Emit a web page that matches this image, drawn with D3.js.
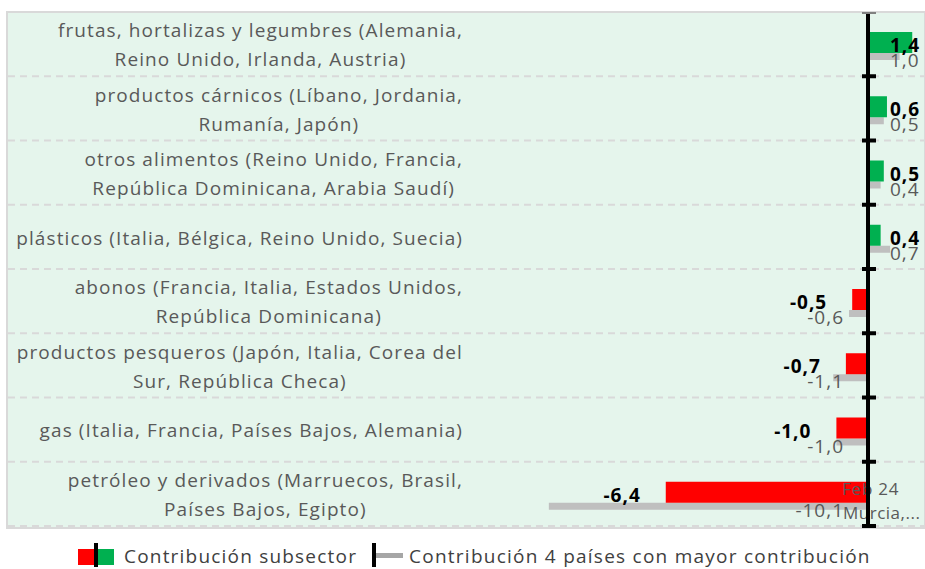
<!DOCTYPE html>
<html><head><meta charset="utf-8">
<script src="https://cdn.jsdelivr.net/npm/d3@7"></script>
<style>body{margin:0;background:#fff}svg{display:block}text{font-family:"Open Sans",Lato,sans-serif}</style>
</head><body><div id="chart"></div>
<script>
const categories = [
  "frutas, hortalizas y legumbres (Alemania,\nReino Unido, Irlanda, Austria)",
  "productos cárnicos (Líbano, Jordania,\nRumanía, Japón)",
  "otros alimentos (Reino Unido, Francia,\nRepública Dominicana, Arabia Saudí)",
  "plásticos (Italia, Bélgica, Reino Unido, Suecia)",
  "abonos (Francia, Italia, Estados Unidos,\nRepública Dominicana)",
  "productos pesqueros (Japón, Italia, Corea del\nSur, República Checa)",
  "gas (Italia, Francia, Países Bajos, Alemania)",
  "petróleo y derivados (Marruecos, Brasil,\nPaíses Bajos, Egipto)"
];
const subsectorValues = [1.4, 0.6, 0.5, 0.4, -0.5, -0.7, -1.0, -6.4];
const countryValues = [1.0, 0.5, 0.4, 0.7, -0.6, -1.1, -1.0, -10.1];
const seriesNames = ["Contribución subsector", "Contribución 4 países con mayor contribución"];
const extraLabels = ["Feb 24", "Murcia,..."];

const W = 925, H = 569;
const plot = {left: 7, right: 925, top: 12, bottom: 526};
const svg = d3.select("#chart").append("svg").attr("width", W).attr("height", H);
const fmt = v => d3.format(".1f")(v).replace(".", ",").replace("−", "-");

const x = d3.scaleLinear().domain([-12, 2]).range([868 - 12 * 31.6, 868 + 2 * 31.6]);
const y = d3.scaleBand().domain(d3.range(categories.length)).range([plot.top, plot.bottom]).padding(0);
const bw = y.bandwidth();

// background
svg.append("rect").attr("x", plot.left).attr("y", plot.top).attr("width", plot.right - plot.left)
  .attr("height", plot.bottom - plot.top + 2).attr("fill", "#e5f5ec")
  .attr("stroke", "#d9d9d9").attr("stroke-width", 2);

// dashed gridlines at band boundaries
const bounds = d3.range(1, categories.length + 1).map(i => plot.top + i * bw);
svg.selectAll(".grid").data(bounds).join("line")
  .attr("x1", plot.left + 1).attr("x2", plot.right).attr("y1", d => d).attr("y2", d => d)
  .attr("stroke", "#d9d9d9").attr("stroke-width", 2).attr("stroke-dasharray", "7,5");

// category labels
const labelRight = 463;
const lg = svg.append("g");
categories.forEach((c, i) => {
  const lines = c.split("\n");
  const g = lg.append("g");
  const lh = 29;
  const cy = y(i) + bw / 2 + 1;
  const t = lines.map((l, k) => g.append("text").text(l)
    .attr("y", cy + (k - (lines.length - 1) / 2) * lh).attr("dy", "0.35em")
    .attr("text-anchor", "middle").attr("font-size", 19).attr("letter-spacing", 1.1)
    .attr("fill", "#595959"));
  const w = d3.max(t, n => n.node().getComputedTextLength());
  t.forEach(n => n.attr("x", labelRight - w / 2));
});

// bars
const barTop = 20, barH = 21, grayH = 7;
svg.selectAll(".gbar").data(countryValues).join("rect")
  .attr("x", d => x(Math.min(0, d))).attr("width", d => Math.abs(x(d) - x(0)))
  .attr("y", (d, i) => y(i) + barTop + barH).attr("height", grayH).attr("fill", "#bfbfbf");
svg.selectAll(".sbar").data(subsectorValues).join("rect")
  .attr("x", d => x(Math.min(0, d))).attr("width", d => Math.abs(x(d) - x(0)))
  .attr("y", (d, i) => y(i) + barTop).attr("height", barH)
  .attr("fill", d => d >= 0 ? "#00b050" : "#ff0000");

// extra series labels
svg.append("text").text(extraLabels[0]).attr("x", 842).attr("y", y(7) + 33)
  .attr("font-size", 17).attr("letter-spacing", 0.8).attr("fill", "#595959");
svg.append("text").text(extraLabels[1]).attr("x", 843).attr("y", y(7) + 57)
  .attr("font-size", 17).attr("letter-spacing", 0.5).attr("fill", "#595959");

// axis
svg.append("line").attr("x1", x(0)).attr("x2", x(0)).attr("y1", plot.top).attr("y2", plot.bottom + 1)
  .attr("stroke", "#000").attr("stroke-width", 4);
svg.selectAll(".tick").data([plot.top + 1].concat(bounds)).join("line")
  .attr("x1", x(0) - 6).attr("x2", x(0) + 8).attr("y1", d => d).attr("y2", d => d)
  .attr("stroke", (d, i) => i === 0 ? "#808080" : "#000").attr("stroke-width", (d, i) => i === 0 ? 2 : 4);

// gray value labels
svg.selectAll(".glab").data(countryValues).join("text")
  .text(fmt)
  .attr("x", d => d >= 0 ? x(0) + 22 : x(0) - 24)
  .attr("text-anchor", d => d >= 0 ? "start" : "end")
  .attr("y", (d, i) => y(i) + 55).attr("font-size", 19).attr("letter-spacing", 1)
  .attr("fill", "#595959");
// bold value labels
svg.selectAll(".slab").data(subsectorValues).join("text")
  .text(fmt)
  .attr("x", d => d >= 0 ? x(0) + 22 : x(d) - 25)
  .attr("text-anchor", d => d >= 0 ? "start" : "end")
  .attr("y", (d, i) => y(i) + 40).attr("font-size", 19).attr("letter-spacing", 1)
  .attr("font-weight", "bold").attr("fill", "#000");

// legend
const leg = svg.append("g");
leg.append("rect").attr("x", 78).attr("y", 549).attr("width", 16).attr("height", 16).attr("fill", "#ff0000");
leg.append("rect").attr("x", 98).attr("y", 549).attr("width", 16).attr("height", 16).attr("fill", "#00b050");
leg.append("rect").attr("x", 94).attr("y", 543).attr("width", 4).attr("height", 24).attr("fill", "#000");
leg.append("text").text(seriesNames[0]).attr("x", 124).attr("y", 563).attr("font-size", 19)
  .attr("letter-spacing", 1.2).attr("fill", "#404040");
leg.append("rect").attr("x", 372).attr("y", 543).attr("width", 4).attr("height", 24).attr("fill", "#000");
leg.append("rect").attr("x", 376).attr("y", 553).attr("width", 27).attr("height", 5).attr("fill", "#a6a6a6");
leg.append("text").text(seriesNames[1]).attr("x", 409).attr("y", 563).attr("font-size", 19)
  .attr("letter-spacing", 1.25).attr("fill", "#404040");
</script></body></html>
